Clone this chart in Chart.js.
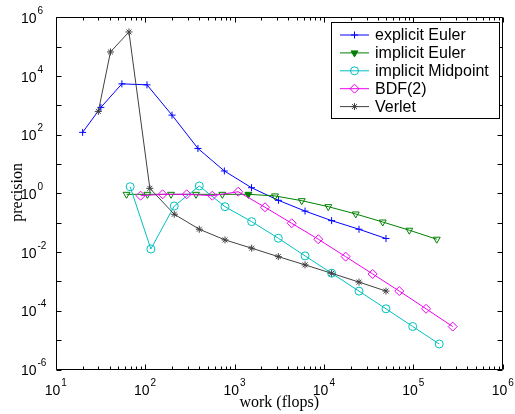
<!DOCTYPE html>
<html><head><meta charset="utf-8">
<script src="https://cdn.jsdelivr.net/npm/chart.js@4.4.1/dist/chart.umd.min.js"></script>
<style>html,body{margin:0;padding:0;background:#fff;overflow:hidden}canvas{display:block}</style>
</head><body>
<canvas id="c" width="515" height="414"></canvas>
<script>
// ---- data ----
const seriesNames = ['explicit Euler', 'implicit Euler', 'implicit Midpoint', 'BDF(2)', 'Verlet'];

const explicitEulerWork = [20, 32, 55, 105, 200, 390, 770, 1550, 3100, 6150, 12200, 24700, 49500];
const explicitEulerPrec = [120, 850, 5400, 5000, 465, 34, 5.8, 1.56, 0.58, 0.25, 0.118, 0.060, 0.029];

const implicitEulerWork = [62, 106, 195, 371, 731, 1430, 2840, 5650, 11200, 22700, 45500, 90200, 183000];
const implicitEulerPrec = [0.93, 0.93, 0.93, 0.93, 0.93, 0.93, 0.82, 0.565, 0.353, 0.199, 0.106, 0.0556, 0.0275];

const midpointWork = [68, 116, 212, 404, 783, 1556, 3090, 6150, 12200, 24700, 49500, 98500, 195000];
const midpointPrec = [1.69, 0.0128, 0.372, 1.79, 0.353, 0.109, 0.0297, 0.00743, 0.00191, 0.000467, 0.000117, 2.92e-5, 7.4e-6];

const bdf2Work = [89, 157, 292, 565, 1100, 2195, 4360, 8650, 17500, 35100, 69700, 139000, 276000];
const bdf2Prec = [0.835, 0.93, 0.93, 0.835, 1.14, 0.337, 0.096, 0.0275, 0.0070, 0.0018, 0.00047, 0.000117, 2.9e-5];

const verletWork = [30, 41, 66, 113, 212, 404, 783, 1556, 3090, 6150, 12200, 24700, 49500];
const verletPrec = [621, 66000, 316000, 1.49, 0.195, 0.060, 0.026, 0.0136, 0.0070, 0.00367, 0.0019, 0.00095, 0.00047];

const xTickExponents = [1, 2, 3, 4, 5, 6];
const yTickExponents = [-6, -4, -2, 0, 2, 4, 6];
const xAxisTitle = 'work (flops)';
const yAxisTitle = 'precision';

// ---- styles ----
const colors = ['#0000ff', '#008000', '#00bfbf', '#ee00ee', '#404040'];
const markerKinds = ['plus', 'triDown', 'circle', 'diamond', 'star'];

function pts(xs, ys) { return xs.map((x, i) => ({ x: x, y: ys[i] })); }

const implicitFill = implicitEulerWork.map((_, i) => i === 5 ? colors[1] : 'rgba(0,0,0,0)');

const datasets = [
  { label: seriesNames[0], data: pts(explicitEulerWork, explicitEulerPrec), borderColor: colors[0],
    pointStyle: 'cross', pointRadius: 3.5, pointBorderColor: colors[0], pointBackgroundColor: 'rgba(0,0,0,0)', order: 4 },
  { label: seriesNames[1], data: pts(implicitEulerWork, implicitEulerPrec), borderColor: colors[1],
    pointStyle: 'triangle', rotation: 180, pointRadius: 4, pointBorderColor: colors[1], pointBackgroundColor: implicitFill, order: 3 },
  { label: seriesNames[2], data: pts(midpointWork, midpointPrec), borderColor: colors[2],
    pointStyle: 'circle', pointRadius: 4, pointBorderColor: colors[2], pointBackgroundColor: 'rgba(0,0,0,0)', order: 2 },
  { label: seriesNames[3], data: pts(bdf2Work, bdf2Prec), borderColor: colors[3],
    pointStyle: 'rectRot', pointRadius: 4.5, pointBorderColor: colors[3], pointBackgroundColor: 'rgba(0,0,0,0)', order: 1 },
  { label: seriesNames[4], data: pts(verletWork, verletPrec), borderColor: colors[4],
    pointStyle: 'star', pointRadius: 3.5, pointBorderColor: colors[4], pointBackgroundColor: 'rgba(0,0,0,0)', order: 0 }
];
datasets.forEach(d => { d.borderWidth = 1; d.pointBorderWidth = 1; d.tension = 0; d.fill = false; });

function drawMarker(ctx, kind, x, y, r, color, filled) {
  ctx.save();
  ctx.strokeStyle = color; ctx.fillStyle = color; ctx.lineWidth = 1;
  ctx.beginPath();
  if (kind === 'plus') {
    ctx.moveTo(x - r, y); ctx.lineTo(x + r, y); ctx.moveTo(x, y - r); ctx.lineTo(x, y + r);
  } else if (kind === 'triDown') {
    ctx.moveTo(x, y + r); ctx.lineTo(x - r * 0.866, y - r / 2); ctx.lineTo(x + r * 0.866, y - r / 2); ctx.closePath();
    if (filled) ctx.fill();
  } else if (kind === 'circle') {
    ctx.arc(x, y, r, 0, Math.PI * 2);
  } else if (kind === 'diamond') {
    ctx.moveTo(x, y - r); ctx.lineTo(x + r, y); ctx.lineTo(x, y + r); ctx.lineTo(x - r, y); ctx.closePath();
  } else if (kind === 'star') {
    ctx.moveTo(x - r, y); ctx.lineTo(x + r, y); ctx.moveTo(x, y - r); ctx.lineTo(x, y + r);
    const d = r * 0.707;
    ctx.moveTo(x - d, y - d); ctx.lineTo(x + d, y + d); ctx.moveTo(x - d, y + d); ctx.lineTo(x + d, y - d);
  }
  ctx.stroke();
  ctx.restore();
}

const SANS = "'Liberation Sans', Arial, Helvetica, sans-serif";
const SERIF = "'Liberation Serif', 'Times New Roman', serif";

function drawPow(ctx, exp, x, y, align) {
  // draws "10" with superscript exponent; align: 'center' (x at center) or 'right10' (x = right edge of "10")
  const base = '10', sup = String(exp);
  ctx.font = '14px ' + SANS;
  const wb = ctx.measureText(base).width;
  ctx.font = '10px ' + SANS;
  const ws = ctx.measureText(sup).width;
  let x0;
  if (align === 'center') x0 = x - (wb + 1 + ws) / 2; else x0 = x - wb;
  ctx.textAlign = 'left'; ctx.textBaseline = 'alphabetic'; ctx.fillStyle = '#000';
  ctx.font = '14px ' + SANS;
  ctx.fillText(base, x0, y);
  ctx.font = '10px ' + SANS;
  ctx.fillText(sup, x0 + wb + 1, y - 9);
}

const framePlugin = {
  id: 'matlabFrame',
  afterDatasetsDraw(chart) {
    const ctx = chart.ctx, a = chart.chartArea;
    const xs = chart.scales.x, ys = chart.scales.y;
    const L = Math.round(a.left) + 0.5, R = Math.round(a.right) - 0.5;
    const T = Math.round(a.top) + 0.5, B = Math.round(a.bottom) - 0.5;
    ctx.save();
    ctx.strokeStyle = '#000'; ctx.lineWidth = 1;
    ctx.beginPath();
    ctx.rect(L, T, R - L, B - T);
    // x ticks (major + minor), bottom and top, pointing inward
    for (let d = 1; d <= 6; d++) {
      for (let m = 1; m <= 9; m++) {
        if (d === 6 && m > 1) break;
        const v = m * Math.pow(10, d);
        const px = Math.round(xs.getPixelForValue(v)) + 0.5;
        const len = m === 1 ? 5 : 3;
        ctx.moveTo(px, B); ctx.lineTo(px, B - len);
        ctx.moveTo(px, T); ctx.lineTo(px, T + len);
      }
    }
    // y ticks every decade, left and right
    for (let e = -6; e <= 6; e++) {
      const py = Math.round(ys.getPixelForValue(Math.pow(10, e))) + 0.5;
      ctx.moveTo(L, py); ctx.lineTo(L + 5, py);
      ctx.moveTo(R, py); ctx.lineTo(R - 5, py);
    }
    ctx.stroke();

    // tick labels
    xTickExponents.forEach(e => {
      const px = xs.getPixelForValue(Math.pow(10, e));
      drawPow(ctx, e, px, a.bottom + 25, 'center');
    });
    yTickExponents.forEach(e => {
      const py = ys.getPixelForValue(Math.pow(10, e));
      drawPow(ctx, e, 36.5, py + 5.5, 'right10');
    });

    // axis titles
    ctx.fillStyle = '#000';
    ctx.font = '16px ' + SERIF;
    ctx.textAlign = 'center'; ctx.textBaseline = 'alphabetic';
    ctx.fillText(xAxisTitle, (a.left + a.right) / 2, 407);
    ctx.save();
    ctx.translate(21.5, (a.top + a.bottom) / 2 - 1);
    ctx.rotate(-Math.PI / 2);
    ctx.fillText(yAxisTitle, 0, 0);
    ctx.restore();

    // legend
    const lx = 331.5, ly = 22.5, lw = 168, lh = 96;
    ctx.fillStyle = '#fff';
    ctx.fillRect(lx, ly, lw, lh);
    ctx.strokeStyle = '#000';
    ctx.strokeRect(lx, ly, lw, lh);
    ctx.font = '16px ' + SANS;
    ctx.textAlign = 'left'; ctx.textBaseline = 'middle';
    const sizes = [3.5, 4, 4, 4.5, 3.5];
    seriesNames.forEach((name, i) => {
      const y = 35 + i * 17.9;
      ctx.strokeStyle = colors[i]; ctx.lineWidth = 1;
      ctx.beginPath(); ctx.moveTo(340, y); ctx.lineTo(369, y); ctx.stroke();
      drawMarker(ctx, markerKinds[i], 354.5, y, sizes[i], colors[i], i === 1);
      ctx.fillStyle = '#000';
      ctx.fillText(name, 375, y + 1);
    });
    ctx.restore();
  }
};

new Chart(document.getElementById('c'), {
  type: 'line',
  data: { datasets: datasets },
  options: {
    responsive: false,
    animation: false,
    events: [],
    layout: { padding: { left: 55.7, right: 12.3, top: 17.3, bottom: 44.5 } },
    plugins: { legend: { display: false }, tooltip: { enabled: false } },
    scales: {
      x: { type: 'logarithmic', min: 10, max: 1e6, display: false },
      y: { type: 'logarithmic', min: 1e-6, max: 1e6, display: false }
    }
  },
  plugins: [framePlugin]
});
</script>
</body></html>
